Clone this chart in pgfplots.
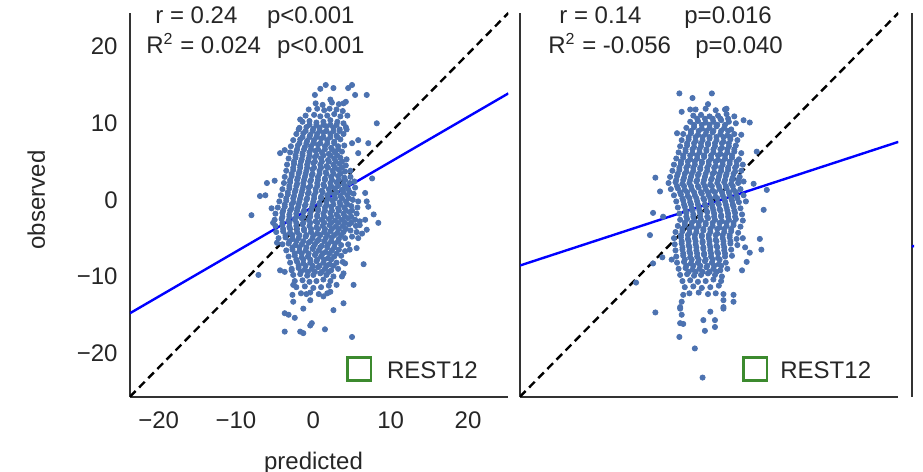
\documentclass[border=0pt]{standalone}
\usepackage{fontspec}
\setmainfont{Liberation Sans}
\usepackage{pgfplots}
\pgfplotsset{compat=1.18}
\definecolor{dots}{HTML}{4C72B0}
\definecolor{legendgreen}{HTML}{3C8A2E}
\definecolor{txt}{HTML}{262626}

\pgfplotsset{
  panel/.style={
    scale only axis, width=189.15pt, height=191.85pt,
    xmin=-23.7, xmax=25.2, ymin=-25.7, ymax=24.4,
    axis x line*=bottom, axis y line*=left,
    axis line style={-, black!80, line width=1pt},
    major tick length=0pt,
    xtick={-20,-10,0,10,20}, ytick={-20,-10,0,10,20},
    tick label style={font=\fontsize{12}{14}\selectfont, text=txt, inner sep=0pt},
    xticklabel style={yshift=-7.5pt},
    yticklabel style={xshift=-6pt},
  },
  dotstyle/.style={only marks, mark=*, color=dots, mark size=1.3pt},
  fitline/.style={blue, line width=1.2pt},
}

\begin{document}
\begin{tikzpicture}[x=0.5pt, y=0.5pt, font=\fontsize{12}{14}\selectfont]
\useasboundingbox (0,0) rectangle (923,472);
\clip (0,0) rectangle (914,472);

% ---------- panel 1 ----------
\begin{axis}[panel, at={(65pt,37.65pt)}, anchor=south west,
  xticklabels={−20,−10,0,10,20}, yticklabels={−20,−10,0,10,20}]
\addplot[dotstyle] coordinates {
(0.3,12.6)(1.2,12.4)(2.4,12.7)(3.3,12.5)(4.2,12.8)
(-0.6,11.8)(0.5,11.9)(1.4,11.7)(2.1,11.9)(3.0,11.8)(3.8,11.6)
(-1.0,11.0)(0.1,11.1)(0.9,10.9)(1.8,11.0)(2.7,11.2)(3.5,10.9)(4.4,11.0)
(-1.4,10.2)(-0.5,10.3)(0.4,10.1)(1.3,10.2)(2.2,10.4)(3.1,10.2)(3.9,10.0)
(-1.8,9.4)(-0.9,9.5)(0.0,9.3)(0.8,9.4)(1.7,9.6)(2.6,9.4)(3.4,9.2)(4.2,9.5)
(-2.2,8.6)(-1.3,8.7)(-0.4,8.5)(0.5,8.6)(1.3,8.8)(2.2,8.6)(3.0,8.4)(3.9,8.6)
(-2.6,7.8)(-1.7,7.9)(-0.8,7.7)(0.1,7.8)(1.0,8.0)(1.8,7.8)(2.7,7.6)(3.5,7.9)
(-2.9,7.0)(-2.0,7.1)(-1.1,6.9)(-0.3,7.0)(0.6,7.2)(1.5,7.0)(2.3,6.8)(3.2,7.0)(4.0,7.1)
(-3.0,6.2)(-2.2,6.3)(-1.4,6.1)(-0.5,6.2)(0.3,6.4)(1.1,6.2)(2.0,6.0)(2.8,6.2)(3.7,6.3)
(-3.2,5.4)(-2.3,5.5)(-1.5,5.3)(-0.6,5.4)(0.2,5.6)(1.0,5.4)(1.9,5.2)(2.7,5.4)(3.5,5.5)(4.3,5.3)
(-3.4,4.6)(-2.5,4.7)(-1.7,4.5)(-0.8,4.6)(0.0,4.8)(0.9,4.6)(1.7,4.4)(2.6,4.6)(3.4,4.7)(4.2,4.5)
(-3.5,3.8)(-2.6,3.9)(-1.8,3.7)(-0.9,3.8)(-0.1,4.0)(0.8,3.8)(1.6,3.6)(2.5,3.8)(3.3,3.9)(4.1,3.7)(4.8,3.8)
(-3.7,3.0)(-2.8,3.1)(-2.0,2.9)(-1.1,3.0)(-0.2,3.2)(0.6,3.0)(1.5,2.8)(2.3,3.0)(3.2,3.1)(4.0,2.9)(4.8,3.0)
(-3.8,2.2)(-3.0,2.3)(-2.1,2.1)(-1.3,2.2)(-0.4,2.4)(0.5,2.2)(1.3,2.0)(2.2,2.2)(3.0,2.3)(3.9,2.1)(4.7,2.2)(5.3,2.4)
(-4.0,1.4)(-3.1,1.5)(-2.3,1.3)(-1.4,1.4)(-0.6,1.6)(0.3,1.4)(1.1,1.2)(2.0,1.4)(2.8,1.5)(3.7,1.3)(4.5,1.4)(5.4,1.6)
(-4.2,0.6)(-3.3,0.7)(-2.5,0.5)(-1.6,0.6)(-0.7,0.8)(0.1,0.6)(1.0,0.4)(1.8,0.6)(2.7,0.7)(3.5,0.5)(4.4,0.6)(5.2,0.8)
(-4.4,-0.2)(-3.5,-0.1)(-2.6,-0.3)(-1.8,-0.2)(-0.9,0.0)(0.0,-0.2)(0.8,-0.4)(1.7,-0.2)(2.5,-0.1)(3.4,-0.3)(4.2,-0.2)(5.1,0.0)(5.8,-0.2)
(-4.6,-1.0)(-3.7,-0.9)(-2.8,-1.1)(-2.0,-1.0)(-1.1,-0.8)(-0.2,-1.0)(0.6,-1.2)(1.5,-1.0)(2.3,-0.9)(3.2,-1.1)(4.0,-1.0)(4.9,-0.8)(5.7,-1.0)
(-4.9,-1.8)(-4.0,-1.7)(-3.1,-1.9)(-2.2,-1.8)(-1.3,-1.6)(-0.4,-1.8)(0.5,-2.0)(1.3,-1.8)(2.2,-1.7)(3.0,-1.9)(3.9,-1.8)(4.7,-1.6)(5.6,-1.8)
(-5.0,-2.6)(-4.1,-2.5)(-3.2,-2.7)(-2.4,-2.6)(-1.5,-2.4)(-0.6,-2.6)(0.3,-2.8)(1.1,-2.6)(2.0,-2.5)(2.8,-2.7)(3.7,-2.6)(4.5,-2.4)(5.4,-2.6)(6.0,-2.8)
(-4.9,-3.4)(-4.0,-3.3)(-3.1,-3.5)(-2.2,-3.4)(-1.4,-3.2)(-0.5,-3.4)(0.4,-3.6)(1.2,-3.4)(2.1,-3.3)(2.9,-3.5)(3.8,-3.4)(4.6,-3.2)(5.5,-3.4)
(-4.8,-4.2)(-3.9,-4.1)(-3.0,-4.3)(-2.1,-4.2)(-1.2,-4.0)(-0.3,-4.2)(0.5,-4.4)(1.4,-4.2)(2.2,-4.1)(3.1,-4.3)(3.9,-4.2)(4.8,-4.0)(5.6,-4.2)
(-4.5,-5.0)(-3.6,-4.9)(-2.7,-5.1)(-1.9,-5.0)(-1.0,-4.8)(-0.1,-5.0)(0.7,-5.2)(1.6,-5.0)(2.4,-4.9)(3.3,-5.1)(4.1,-5.0)(5.0,-4.8)
(-4.0,-5.8)(-3.2,-5.7)(-2.3,-5.9)(-1.5,-5.8)(-0.6,-5.6)(0.2,-5.8)(1.1,-6.0)(1.9,-5.8)(2.8,-5.7)(3.6,-5.9)(4.5,-5.8)
(-3.5,-6.6)(-2.7,-6.5)(-1.8,-6.7)(-1.0,-6.6)(-0.1,-6.4)(0.7,-6.6)(1.6,-6.8)(2.4,-6.6)(3.3,-6.5)(4.1,-6.7)
(-3.2,-7.4)(-2.4,-7.3)(-1.5,-7.5)(-0.7,-7.4)(0.2,-7.2)(1.0,-7.4)(1.9,-7.6)(2.7,-7.4)(3.6,-7.3)
(-3.0,-8.2)(-2.1,-8.1)(-1.3,-8.3)(-0.4,-8.2)(0.4,-8.0)(1.3,-8.2)(2.1,-8.4)(3.0,-8.2)(3.8,-8.1)
(-2.8,-9.0)(-1.9,-8.9)(-1.1,-9.1)(-0.2,-9.0)(0.6,-8.8)(1.5,-9.0)(2.3,-9.2)(3.2,-9.0)
(-2.6,-9.8)(-1.7,-9.7)(-0.8,-9.9)(0.0,-9.8)(0.9,-9.6)(1.7,-9.8)(2.6,-10.0)
(-2.4,-10.6)(-1.4,-10.5)(-0.5,-10.7)(0.4,-10.6)(1.3,-10.4)(2.2,-10.6)
(-2.2,-11.4)(-1.1,-11.3)(0.0,-11.5)(1.0,-11.4)(2.0,-11.2)
(-1.6,-12.2)(-0.4,-12.1)(0.7,-12.3)(1.8,-12.2)
(1.6,15.0)(2.6,14.6)(5.0,15.0)(4.5,14.6)(0.9,14.5)(0.2,13.7)(5.4,13.7)(6.9,13.7)(2.2,13.1)(3.9,12.6)
(8.2,10.0)(-1.7,10.5)(-1.9,9.2)(-4.3,6.1)(-3.7,6.5)(-6.0,2.2)(-6.9,0.5)(-6.2,0.6)(-5.0,2.5)(-8.0,-2.0)(-5.4,-1.1)
(8.4,-3.0)(6.9,-3.9)(7.1,7.4)(5.8,7.8)(5.0,7.4)(4.3,9.2)(5.8,6.1)(7.6,2.8)(6.7,0.9)(6.9,-0.2)(7.1,-0.9)(7.8,-1.9)
(6.7,-2.6)(6.0,-3.3)(6.3,-4.4)(5.8,-5.0)(5.6,-6.3)(4.7,-6.5)(6.5,-8.4)(4.1,-8.3)(3.9,-9.6)(3.7,-10.0)(5.2,-11.1)
(3.0,-11.1)(2.2,-12.0)(1.3,-12.6)(3.9,-13.5)(2.6,-14.4)(5.0,-17.9)(1.5,-16.9)(-0.4,-16.4)(-0.2,-16.1)(-1.7,-17.2)
(-1.3,-17.4)(-3.7,-17.2)(-3.7,-14.8)(-3.2,-15.0)(-2.4,-15.4)(-1.3,-14.2)(-2.6,-13.3)(-0.4,-13.1)(-0.9,-12.3)
(-2.7,-12.4)(-2.6,-11.1)(-2.8,-9.2)(-3.7,-9.4)(-4.3,-9.2)(-7.1,-9.8)(-4.7,-5.6)(-5.2,-3.0)
};
% dense core of panel 1
\addplot[dotstyle] coordinates {
(-0.5,9.8)(0.4,9.8)(1.3,9.8)(2.2,9.8)(3.0,9.8)
(-1.0,9.0)(-0.1,9.0)(0.8,9.0)(1.7,9.0)(2.6,9.0)(3.4,9.0)
(-1.4,8.2)(-0.5,8.2)(0.4,8.2)(1.3,8.2)(2.2,8.2)(3.1,8.2)
(-1.8,7.4)(-0.9,7.4)(0.0,7.4)(0.9,7.4)(1.8,7.4)(2.7,7.4)
(-2.1,6.6)(-1.2,6.6)(-0.3,6.6)(0.6,6.6)(1.5,6.6)(2.4,6.6)(3.2,6.6)
(-2.3,5.8)(-1.4,5.8)(-0.5,5.8)(0.4,5.8)(1.3,5.8)(2.2,5.8)(3.1,5.8)
(-2.5,5.0)(-1.6,5.0)(-0.7,5.0)(0.2,5.0)(1.1,5.0)(2.0,5.0)(2.9,5.0)(3.7,5.0)
(-2.6,4.2)(-1.7,4.2)(-0.8,4.2)(0.1,4.2)(1.0,4.2)(1.9,4.2)(2.8,4.2)(3.7,4.2)
(-2.8,3.4)(-1.9,3.4)(-1.0,3.4)(-0.1,3.4)(0.8,3.4)(1.7,3.4)(2.6,3.4)(3.5,3.4)
(-3.0,2.6)(-2.1,2.6)(-1.2,2.6)(-0.3,2.6)(0.6,2.6)(1.5,2.6)(2.4,2.6)(3.3,2.6)(4.1,2.6)
(-3.1,1.8)(-2.2,1.8)(-1.3,1.8)(-0.4,1.8)(0.5,1.8)(1.4,1.8)(2.3,1.8)(3.2,1.8)(4.1,1.8)
(-3.3,1.0)(-2.4,1.0)(-1.5,1.0)(-0.6,1.0)(0.3,1.0)(1.2,1.0)(2.1,1.0)(3.0,1.0)(3.9,1.0)(4.7,1.0)
(-3.5,0.2)(-2.6,0.2)(-1.7,0.2)(-0.8,0.2)(0.1,0.2)(1.0,0.2)(1.9,0.2)(2.8,0.2)(3.7,0.2)(4.6,0.2)
(-3.7,-0.6)(-2.8,-0.6)(-1.9,-0.6)(-1.0,-0.6)(-0.1,-0.6)(0.8,-0.6)(1.7,-0.6)(2.6,-0.6)(3.5,-0.6)(4.4,-0.6)
(-3.9,-1.4)(-3.0,-1.4)(-2.1,-1.4)(-1.2,-1.4)(-0.3,-1.4)(0.6,-1.4)(1.5,-1.4)(2.4,-1.4)(3.3,-1.4)(4.2,-1.4)(5.0,-1.4)
(-4.0,-2.2)(-3.1,-2.2)(-2.2,-2.2)(-1.3,-2.2)(-0.4,-2.2)(0.5,-2.2)(1.4,-2.2)(2.3,-2.2)(3.2,-2.2)(4.1,-2.2)(4.9,-2.2)
(-4.0,-3.0)(-3.1,-3.0)(-2.2,-3.0)(-1.3,-3.0)(-0.4,-3.0)(0.5,-3.0)(1.4,-3.0)(2.3,-3.0)(3.2,-3.0)(4.1,-3.0)(4.9,-3.0)
(-3.9,-3.8)(-3.0,-3.8)(-2.1,-3.8)(-1.2,-3.8)(-0.3,-3.8)(0.6,-3.8)(1.5,-3.8)(2.4,-3.8)(3.3,-3.8)(4.2,-3.8)
(-3.6,-4.6)(-2.7,-4.6)(-1.8,-4.6)(-0.9,-4.6)(0.0,-4.6)(0.9,-4.6)(1.8,-4.6)(2.7,-4.6)(3.6,-4.6)
(-3.1,-5.4)(-2.2,-5.4)(-1.3,-5.4)(-0.4,-5.4)(0.5,-5.4)(1.4,-5.4)(2.3,-5.4)(3.2,-5.4)
(-2.7,-6.2)(-1.8,-6.2)(-0.9,-6.2)(0.0,-6.2)(0.9,-6.2)(1.8,-6.2)(2.7,-6.2)
(-2.4,-7.0)(-1.5,-7.0)(-0.6,-7.0)(0.3,-7.0)(1.2,-7.0)(2.1,-7.0)(3.0,-7.0)
(-2.2,-7.8)(-1.3,-7.8)(-0.4,-7.8)(0.5,-7.8)(1.4,-7.8)(2.3,-7.8)
(-1.9,-8.6)(-1.0,-8.6)(-0.1,-8.6)(0.8,-8.6)(1.7,-8.6)(2.6,-8.6)
(-1.6,-9.4)(-0.7,-9.4)(0.2,-9.4)(1.1,-9.4)(2.0,-9.4)
};
\addplot[fitline] coordinates {(-23.7,-14.8) (25.2,13.9)};
\draw[black, line width=1.2pt, dash pattern=on 4pt off 2.5pt] (rel axis cs:0,0) -- (rel axis cs:1,1);
\end{axis}

% ---------- panel 2 ----------
\begin{axis}[panel, at={(260pt,37.65pt)}, anchor=south west,
  xticklabels={}, yticklabels={}]
\addplot[dotstyle] coordinates {
(-1.0,11.8)(0.3,11.9)(1.6,11.7)(2.8,11.8)
(-1.3,11.0)(-0.3,11.1)(0.8,10.9)(1.9,11.0)(3.0,11.2)(4.0,10.9)
(-1.7,10.2)(-0.7,10.3)(0.3,10.1)(1.3,10.2)(2.3,10.4)(3.3,10.2)(4.2,10.0)
(-2.2,9.4)(-1.2,9.5)(-0.2,9.3)(0.8,9.4)(1.7,9.6)(2.7,9.4)(3.6,9.2)
(-2.6,8.6)(-1.6,8.7)(-0.7,8.5)(0.3,8.6)(1.2,8.8)(2.2,8.6)(3.1,8.4)(4.0,8.6)(4.9,8.5)
(-2.8,7.8)(-1.9,7.9)(-1.0,7.7)(-0.1,7.8)(0.8,8.0)(1.7,7.8)(2.6,7.6)(3.5,7.9)(4.4,7.8)
(-3.0,7.0)(-2.1,7.1)(-1.2,6.9)(-0.3,7.0)(0.6,7.2)(1.5,7.0)(2.4,6.8)(3.3,7.0)(4.2,7.1)
(-3.2,6.2)(-2.3,6.3)(-1.4,6.1)(-0.5,6.2)(0.4,6.4)(1.3,6.2)(2.2,6.0)(3.1,6.2)(4.0,6.3)(4.9,6.1)
(-3.5,5.4)(-2.6,5.5)(-1.7,5.3)(-0.8,5.4)(0.1,5.6)(1.0,5.4)(1.9,5.2)(2.8,5.4)(3.7,5.5)(4.6,5.3)
(-3.8,4.6)(-2.9,4.7)(-2.0,4.5)(-1.1,4.6)(-0.2,4.8)(0.7,4.6)(1.6,4.4)(2.5,4.6)(3.4,4.7)(4.3,4.5)(5.1,4.6)
(-4.0,3.8)(-3.1,3.9)(-2.2,3.7)(-1.3,3.8)(-0.4,4.0)(0.5,3.8)(1.4,3.6)(2.3,3.8)(3.2,3.9)(4.1,3.7)(4.9,3.8)
(-4.3,3.0)(-3.4,3.1)(-2.5,2.9)(-1.6,3.0)(-0.7,3.2)(0.2,3.0)(1.1,2.8)(2.0,3.0)(2.9,3.1)(3.8,2.9)(4.7,3.0)
(-4.5,2.2)(-3.6,2.3)(-2.7,2.1)(-1.8,2.2)(-0.9,2.4)(0.0,2.2)(0.9,2.0)(1.8,2.2)(2.7,2.3)(3.6,2.1)(4.5,2.2)(5.2,2.4)
(-4.2,1.4)(-3.3,1.5)(-2.4,1.3)(-1.5,1.4)(-0.6,1.6)(0.3,1.4)(1.2,1.2)(2.1,1.4)(3.0,1.5)(3.9,1.3)(4.8,1.4)
(-3.8,0.6)(-2.9,0.7)(-2.0,0.5)(-1.1,0.6)(-0.2,0.8)(0.7,0.6)(1.6,0.4)(2.5,0.6)(3.4,0.7)(4.3,0.5)(5.2,0.6)
(-3.5,-0.2)(-2.6,-0.1)(-1.7,-0.3)(-0.8,-0.2)(0.1,0.0)(1.0,-0.2)(1.9,-0.4)(2.8,-0.2)(3.7,-0.1)(4.6,-0.3)(5.5,-0.2)
(-3.3,-1.0)(-2.4,-0.9)(-1.5,-1.1)(-0.6,-1.0)(0.3,-0.8)(1.2,-1.0)(2.1,-1.2)(3.0,-1.0)(3.9,-0.9)(4.8,-1.1)
(-3.1,-1.8)(-2.2,-1.7)(-1.3,-1.9)(-0.4,-1.8)(0.5,-1.6)(1.4,-1.8)(2.3,-2.0)(3.2,-1.8)(4.1,-1.7)(5.0,-1.9)
(-3.0,-2.6)(-2.1,-2.5)(-1.2,-2.7)(-0.3,-2.6)(0.6,-2.4)(1.5,-2.6)(2.4,-2.8)(3.3,-2.6)(4.2,-2.5)(5.1,-2.7)
(-3.3,-3.4)(-2.4,-3.3)(-1.5,-3.5)(-0.6,-3.4)(0.3,-3.2)(1.2,-3.4)(2.1,-3.6)(3.0,-3.4)(3.9,-3.3)(4.8,-3.5)
(-3.6,-4.2)(-2.7,-4.1)(-1.8,-4.3)(-0.9,-4.2)(0.0,-4.0)(0.9,-4.2)(1.8,-4.4)(2.7,-4.2)(3.6,-4.1)(4.5,-4.3)
(-3.8,-5.0)(-2.9,-4.9)(-2.0,-5.1)(-1.1,-5.0)(-0.2,-4.8)(0.7,-5.0)(1.6,-5.2)(2.5,-5.0)(3.4,-4.9)(4.3,-5.1)(5.1,-5.0)
(-3.7,-5.8)(-2.8,-5.7)(-1.9,-5.9)(-1.0,-5.8)(-0.1,-5.6)(0.8,-5.8)(1.7,-6.0)(2.6,-5.8)(3.5,-5.7)(4.4,-5.9)
(-3.6,-6.6)(-2.7,-6.5)(-1.8,-6.7)(-0.9,-6.6)(0.0,-6.4)(0.9,-6.6)(1.8,-6.8)(2.7,-6.6)(3.6,-6.5)
(-3.5,-7.4)(-2.6,-7.3)(-1.7,-7.5)(-0.8,-7.4)(0.1,-7.2)(1.0,-7.4)(1.9,-7.6)(2.8,-7.4)(3.7,-7.3)
(-3.4,-8.2)(-2.5,-8.1)(-1.6,-8.3)(-0.7,-8.2)(0.2,-8.0)(1.1,-8.2)(2.0,-8.4)(2.9,-8.2)
(-3.2,-9.0)(-2.3,-8.9)(-1.4,-9.1)(-0.5,-9.0)(0.4,-8.8)(1.3,-9.0)(2.2,-9.2)(3.1,-9.0)
(-3.0,-9.8)(-2.1,-9.7)(-1.2,-9.9)(-0.3,-9.8)(0.6,-9.6)(1.5,-9.8)(2.4,-10.0)
(-2.7,-10.6)(-1.7,-10.5)(-0.7,-10.7)(0.3,-10.6)(1.3,-10.4)(2.3,-10.6)
(-2.4,-11.4)(-1.3,-11.3)(-0.2,-11.5)(0.9,-11.4)(2.0,-11.2)
(-1.8,-12.2)(-0.6,-12.1)(0.6,-12.3)(1.6,-12.2)
(-3.1,13.9)(1.1,13.9)(-1.4,13.3)(0.6,12.5)(-2.8,11.5)(-1.7,11.8)(3.0,11.9)(-3.4,8.7)(5.2,10.4)(6.0,10.1)
(6.9,6.3)(8.2,1.3)(7.8,-1.3)(6.5,2.1)(-6.2,2.9)(-5.6,1.1)(-6.5,-1.7)(-6.9,-4.6)(-5.2,-2.2)(7.3,-5.1)(7.5,-6.5)
(-8.7,-10.8)(-6.2,-14.7)(-3.1,-17.9)(-1.1,-19.4)(0.2,-17.1)(1.5,-16.6)(2.6,-14.2)(3.9,-13.3)(-3.0,-14.2)(-2.8,-15.0)
(-0.1,-23.2)(-3.0,-16.1)(-2.6,-16.2)(0.0,-15.7)(1.5,-15.7)(0.9,-14.6)(2.6,-14.0)(-3.0,-14.0)(-2.8,-13.3)(-2.6,-12.4)
(5.6,-8.1)(5.0,-9.2)(6.0,-6.9)(5.4,-6.2)(-5.3,-7.5)(-4.1,-7.8)(-6.5,-8.3)(2.6,-12.3)(2.6,-13.1)(3.9,-12.4)
};
% dense core of panel 2
\addplot[dotstyle] coordinates {
(-0.8,10.6)(0.2,10.6)(1.2,10.6)(2.2,10.6)(3.2,10.6)
(-1.2,9.8)(-0.2,9.8)(0.8,9.8)(1.8,9.8)(2.8,9.8)
(-1.6,9.0)(-0.6,9.0)(0.4,9.0)(1.3,9.0)(2.3,9.0)(3.2,9.0)
(-1.9,8.2)(-1.0,8.2)(-0.1,8.2)(0.8,8.2)(1.7,8.2)(2.6,8.2)(3.5,8.2)
(-2.1,7.4)(-1.2,7.4)(-0.3,7.4)(0.6,7.4)(1.5,7.4)(2.4,7.4)(3.3,7.4)
(-2.3,6.6)(-1.4,6.6)(-0.5,6.6)(0.4,6.6)(1.3,6.6)(2.2,6.6)(3.1,6.6)(4.0,6.6)
(-2.6,5.8)(-1.7,5.8)(-0.8,5.8)(0.1,5.8)(1.0,5.8)(1.9,5.8)(2.8,5.8)(3.7,5.8)
(-2.9,5.0)(-2.0,5.0)(-1.1,5.0)(-0.2,5.0)(0.7,5.0)(1.6,5.0)(2.5,5.0)(3.4,5.0)(4.3,5.0)
(-3.1,4.2)(-2.2,4.2)(-1.3,4.2)(-0.4,4.2)(0.5,4.2)(1.4,4.2)(2.3,4.2)(3.2,4.2)(4.1,4.2)
(-3.3,3.4)(-2.4,3.4)(-1.5,3.4)(-0.6,3.4)(0.3,3.4)(1.2,3.4)(2.1,3.4)(3.0,3.4)(3.9,3.4)
(-3.5,2.6)(-2.6,2.6)(-1.7,2.6)(-0.8,2.6)(0.1,2.6)(1.0,2.6)(1.9,2.6)(2.8,2.6)(3.7,2.6)(4.5,2.6)
(-3.4,1.8)(-2.5,1.8)(-1.6,1.8)(-0.7,1.8)(0.2,1.8)(1.1,1.8)(2.0,1.8)(2.9,1.8)(3.8,1.8)
(-3.0,1.0)(-2.1,1.0)(-1.2,1.0)(-0.3,1.0)(0.6,1.0)(1.5,1.0)(2.4,1.0)(3.3,1.0)(4.2,1.0)
(-2.7,0.2)(-1.8,0.2)(-0.9,0.2)(0.0,0.2)(0.9,0.2)(1.8,0.2)(2.7,0.2)(3.6,0.2)(4.4,0.2)
(-2.5,-0.6)(-1.6,-0.6)(-0.7,-0.6)(0.2,-0.6)(1.1,-0.6)(2.0,-0.6)(2.9,-0.6)(3.8,-0.6)
(-2.3,-1.4)(-1.4,-1.4)(-0.5,-1.4)(0.4,-1.4)(1.3,-1.4)(2.2,-1.4)(3.1,-1.4)(4.0,-1.4)
(-2.2,-2.2)(-1.3,-2.2)(-0.4,-2.2)(0.5,-2.2)(1.4,-2.2)(2.3,-2.2)(3.2,-2.2)(4.1,-2.2)
(-2.4,-3.0)(-1.5,-3.0)(-0.6,-3.0)(0.3,-3.0)(1.2,-3.0)(2.1,-3.0)(3.0,-3.0)(3.9,-3.0)
(-2.7,-3.8)(-1.8,-3.8)(-0.9,-3.8)(0.0,-3.8)(0.9,-3.8)(1.8,-3.8)(2.7,-3.8)(3.6,-3.8)
(-2.9,-4.6)(-2.0,-4.6)(-1.1,-4.6)(-0.2,-4.6)(0.7,-4.6)(1.6,-4.6)(2.5,-4.6)(3.4,-4.6)
(-2.8,-5.4)(-1.9,-5.4)(-1.0,-5.4)(-0.1,-5.4)(0.8,-5.4)(1.7,-5.4)(2.6,-5.4)(3.5,-5.4)
(-2.7,-6.2)(-1.8,-6.2)(-0.9,-6.2)(0.0,-6.2)(0.9,-6.2)(1.8,-6.2)(2.7,-6.2)
(-2.6,-7.0)(-1.7,-7.0)(-0.8,-7.0)(0.1,-7.0)(1.0,-7.0)(1.9,-7.0)(2.8,-7.0)
(-2.4,-7.8)(-1.5,-7.8)(-0.6,-7.8)(0.3,-7.8)(1.2,-7.8)(2.1,-7.8)
(-2.2,-8.6)(-1.3,-8.6)(-0.4,-8.6)(0.5,-8.6)(1.4,-8.6)(2.3,-8.6)
(-1.9,-9.4)(-1.0,-9.4)(-0.1,-9.4)(0.8,-9.4)(1.7,-9.4)
};
\addplot[fitline] coordinates {(-23.7,-8.57) (25.2,7.57)};
\draw[black, line width=1.2pt, dash pattern=on 4pt off 2.5pt] (rel axis cs:0,0) -- (rel axis cs:1,1);
\end{axis}

% ---------- panel 3 (cut off at the right edge) ----------
\begin{axis}[panel, at={(455.85pt,37.65pt)}, anchor=south west,
  axis x line=none, xticklabels={}, yticklabels={}]
\addplot[fitline] coordinates {(-23.7,-6.1) (25.2,6.0)};
\end{axis}

% ---------- annotations ----------
\begin{scope}[every node/.style={inner sep=0pt, anchor=base west, text=txt}]
\node at (155,448.7) {r = 0.24};
\node at (266.7,448.7) {p<0.001};
\node at (146,418.7) {R\textsuperscript{2} = 0.024};
\node at (276.7,418.7) {p<0.001};
\node at (559,448.3) {r = 0.14};
\node at (684,448.3) {p=0.016};
\node at (548,418.7) {R\textsuperscript{2} = -0.056};
\node at (695,418.7) {p=0.040};
\node at (386.7,93.7) {REST12};
\node at (780,93.7) {REST12};
\node[anchor=base] at (313.5,2) {predicted};
\node[anchor=base, rotate=90] at (45,272) {observed};
\end{scope}
\draw[legendgreen, line width=1.2pt] (347.5,91.5) rectangle (371,114.5);
\draw[legendgreen, line width=1.2pt] (743.5,91.5) rectangle (767,114.5);
\end{tikzpicture}
\end{document}
